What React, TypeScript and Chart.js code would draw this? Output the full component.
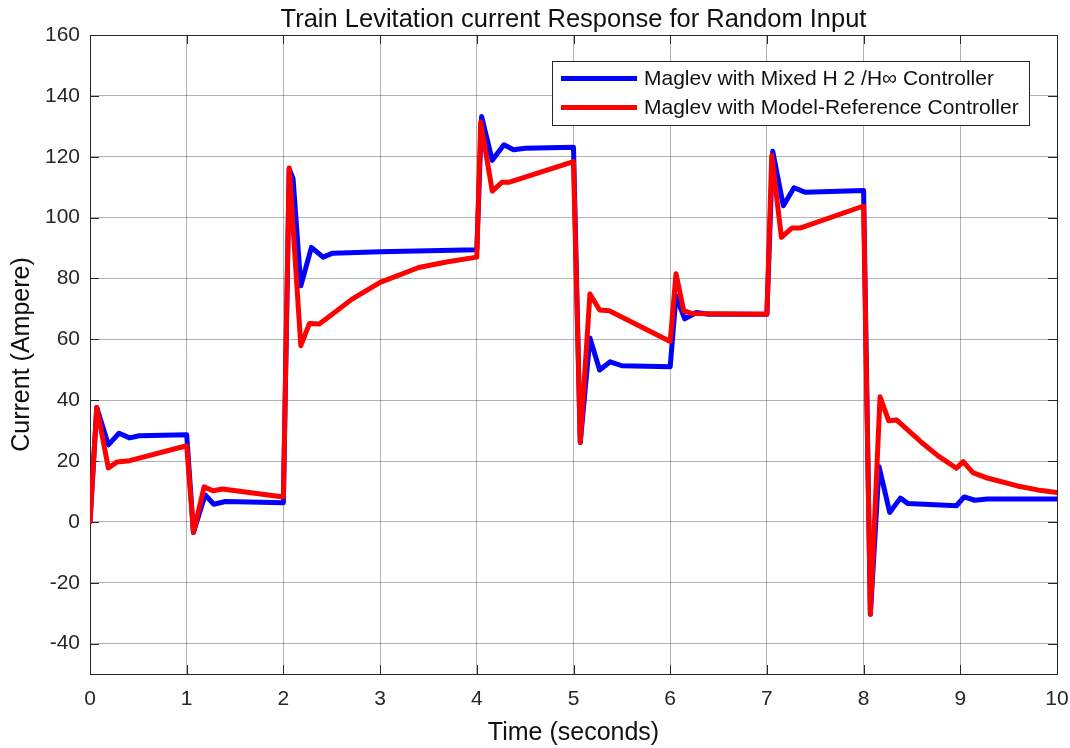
import React, { useEffect, useRef } from "react";
import { Chart, registerables } from "chart.js";

Chart.register(...registerables);

const chartTitle = "Train Levitation current Response for Random Input";
const xAxisTitle = "Time (seconds)";
const yAxisTitle = "Current (Ampere)";
const blueLabel = "Maglev with Mixed H 2 /H\u221E Controller";
const redLabel = "Maglev with Model-Reference Controller";

const xTicks = [0, 1, 2, 3, 4, 5, 6, 7, 8, 9, 10];
const yTicks = [-40, -20, 0, 20, 40, 60, 80, 100, 120, 140, 160];
const xMin = 0;
const xMax = 10;
const yMin = -50;
const yMax = 160;

const blueTime = [
  0, 0.07, 0.19, 0.3, 0.41, 0.51, 1.0, 1.07, 1.19, 1.28, 1.4, 2.0, 2.06, 2.1, 2.18, 2.29, 2.41, 2.51, 3.0, 4.0,
  4.05, 4.16, 4.28, 4.38, 4.5, 5.0, 5.07, 5.17, 5.27, 5.38, 5.5, 6.0, 6.06, 6.15, 6.27, 6.4, 7.0, 7.06, 7.17,
  7.28, 7.4, 8.0, 8.07, 8.16, 8.27, 8.38, 8.46, 8.96, 9.04, 9.15, 9.28, 10.0,
];
const blueCurrent = [
  0, 37.6, 25.3, 29.1, 27.6, 28.3, 28.6, -3.5, 8.9, 5.8, 6.7, 6.3, 116, 112.8, 77.6, 90.2, 87, 88.3, 88.8, 89.4,
  133.2, 118.8, 123.9, 122.3, 122.8, 123.1, 26.1, 60.4, 49.9, 52.6, 51.3, 51.0, 74.3, 66.7, 68.8, 68.2, 68.2,
  121.8, 103.9, 109.8, 108.3, 108.9, -30.4, 18.1, 3.1, 7.8, 6.0, 5.3, 8.2, 7.1, 7.5, 7.5,
];

const redTime = [
  0, 0.07, 0.19, 0.28, 0.41, 1.0, 1.07, 1.18, 1.27, 1.37, 2.0, 2.06, 2.18, 2.27, 2.37, 2.44, 2.71, 3.0, 3.4, 3.7,
  4.0, 4.04, 4.16, 4.26, 4.33, 4.5, 5.0, 5.07, 5.17, 5.27, 5.37, 6.0, 6.06, 6.14, 6.22, 7.0, 7.05, 7.15, 7.26,
  7.35, 8.0, 8.07, 8.17, 8.26, 8.34, 8.6, 8.77, 8.96, 9.03, 9.13, 9.28, 9.59, 9.8, 10.0,
];
const redCurrent = [
  0, 37.6, 17.7, 19.7, 20.1, 25.0, -3.5, 11.5, 10.2, 10.8, 8.2, 116.3, 57.9, 65.2, 65.0, 66.7, 73.2, 78.7, 83.6,
  85.5, 87.0, 131.4, 108.7, 111.6, 111.6, 113.3, 118.4, 26.1, 74.9, 69.6, 69.4, 59.3, 81.5, 69.4, 68.5, 68.2,
  120.4, 93.5, 96.6, 96.6, 103.8, -30.4, 41.1, 33.2, 33.5, 26.1, 21.7, 17.6, 19.8, 16.2, 14.4, 11.8, 10.5, 9.6,
];

const FONT = "'Liberation Sans', Arial, Helvetica, sans-serif";
const BLUE = "#0000ff";
const RED = "#ff0000";
const AXIS = "#262626";

const framePlugin = {
  id: "frame",
  beforeDatasetsDraw(chart: any) {
    const { ctx, chartArea } = chart;
    const { left, right, top, bottom } = chartArea;
    const xs = chart.scales.x;
    const ys = chart.scales.y;
    ctx.save();
    ctx.strokeStyle = AXIS;
    ctx.lineWidth = 1;
    ctx.beginPath();
    const tl = 9;
    xTicks.forEach((v) => {
      const px = Math.round(xs.getPixelForValue(v)) + 0.5;
      ctx.moveTo(px, bottom);
      ctx.lineTo(px, bottom - tl);
      ctx.moveTo(px, top);
      ctx.lineTo(px, top + tl);
    });
    yTicks.forEach((v) => {
      const py = Math.round(ys.getPixelForValue(v)) + 0.5;
      ctx.moveTo(left, py);
      ctx.lineTo(left + tl, py);
      ctx.moveTo(right, py);
      ctx.lineTo(right - tl, py);
    });
    ctx.stroke();
    ctx.strokeRect(Math.round(left) + 0.5, Math.round(top) + 0.5, Math.round(right - left), Math.round(bottom - top));
    ctx.restore();
  },
  afterDraw(chart: any) {
    const { ctx, chartArea } = chart;
    ctx.save();
    // title
    ctx.fillStyle = "#111";
    ctx.font = `25.5px ${FONT}`;
    ctx.textAlign = "center";
    ctx.textBaseline = "alphabetic";
    ctx.fillText(chartTitle, (chartArea.left + chartArea.right) / 2, 27);

    // legend
    const bx = 552.5;
    const by = 61.5;
    const bw = 477;
    const bh = 64;
    ctx.fillStyle = "#ffffff";
    ctx.fillRect(bx, by, bw, bh);
    ctx.strokeStyle = "#262626";
    ctx.lineWidth = 1;
    ctx.strokeRect(bx, by, bw, bh);
    const items = [
      { label: blueLabel, color: BLUE, y: 78.5 },
      { label: redLabel, color: RED, y: 107.5 },
    ];
    ctx.font = `21px ${FONT}`;
    ctx.textAlign = "left";
    ctx.textBaseline = "middle";
    items.forEach((it) => {
      ctx.strokeStyle = it.color;
      ctx.lineWidth = 5;
      ctx.beginPath();
      ctx.moveTo(561, it.y);
      ctx.lineTo(637, it.y);
      ctx.stroke();
      ctx.fillStyle = "#111";
      ctx.fillText(it.label, 644, it.y + 1);
    });
    ctx.restore();
  },
};

export default function App() {
  const canvasRef = useRef<HTMLCanvasElement | null>(null);

  useEffect(() => {
    const canvas = canvasRef.current;
    if (!canvas) return;
    const toPoints = (ts: number[], vs: number[]) => ts.map((t, i) => ({ x: t, y: vs[i] }));
    const chart = new Chart(canvas, {
      type: "line",
      data: {
        datasets: [
          {
            label: redLabel,
            data: toPoints(redTime, redCurrent),
            borderColor: RED,
            backgroundColor: RED,
            borderWidth: 5,
            pointRadius: 0,
            tension: 0,
            borderJoinStyle: "round",
            borderCapStyle: "round",
            order: 0,
          },
          {
            label: blueLabel,
            data: toPoints(blueTime, blueCurrent),
            borderColor: BLUE,
            backgroundColor: BLUE,
            borderWidth: 5,
            pointRadius: 0,
            tension: 0,
            borderJoinStyle: "round",
            borderCapStyle: "round",
            order: 1,
          },
        ],
      },
      options: {
        animation: false,
        responsive: false,
        maintainAspectRatio: false,
        layout: { padding: { top: 35, right: 13, left: 0, bottom: 0 } },
        plugins: {
          legend: { display: false },
          title: { display: false },
          tooltip: { enabled: false },
        },
        scales: {
          x: {
            type: "linear",
            min: xMin,
            max: xMax,
            afterBuildTicks: (s: any) => {
              s.ticks = xTicks.map((v) => ({ value: v }));
            },
            afterFit: (s: any) => {
              s.height = 74;
              s.paddingLeft = 0;
              s.paddingRight = 0;
            },
            grid: { color: "rgba(0,0,0,0.3)", lineWidth: 1, drawTicks: false },
            border: { display: false },
            ticks: {
              padding: 13,
              color: AXIS,
              font: { family: FONT, size: 21 },
              maxRotation: 0,
              callback: (v: any) => String(v),
            },
            title: {
              display: true,
              text: xAxisTitle,
              color: "#111",
              font: { family: FONT, size: 25 },
              padding: { top: 0, bottom: 0 },
            },
          },
          y: {
            type: "linear",
            min: yMin,
            max: yMax,
            afterBuildTicks: (s: any) => {
              s.ticks = yTicks.map((v) => ({ value: v }));
            },
            afterFit: (s: any) => {
              s.width = 90;
              s.paddingTop = 0;
              s.paddingBottom = 0;
            },
            grid: { color: "rgba(0,0,0,0.3)", lineWidth: 1, drawTicks: false },
            border: { display: false },
            ticks: {
              padding: 10,
              color: AXIS,
              font: { family: FONT, size: 21 },
              callback: (v: any) => String(v),
            },
            title: {
              display: true,
              text: yAxisTitle,
              color: "#111",
              font: { family: FONT, size: 25 },
              padding: { top: 7, bottom: 0 },
            },
          },
        },
      },
      plugins: [framePlugin],
    } as any);
    return () => chart.destroy();
  }, []);

  return (
    <div style={{ position: "absolute", left: 0, top: 0, width: 1070, height: 748, background: "#fff" }}>
      <canvas ref={canvasRef} width={1070} height={748} style={{ display: "block" }} />
    </div>
  );
}
